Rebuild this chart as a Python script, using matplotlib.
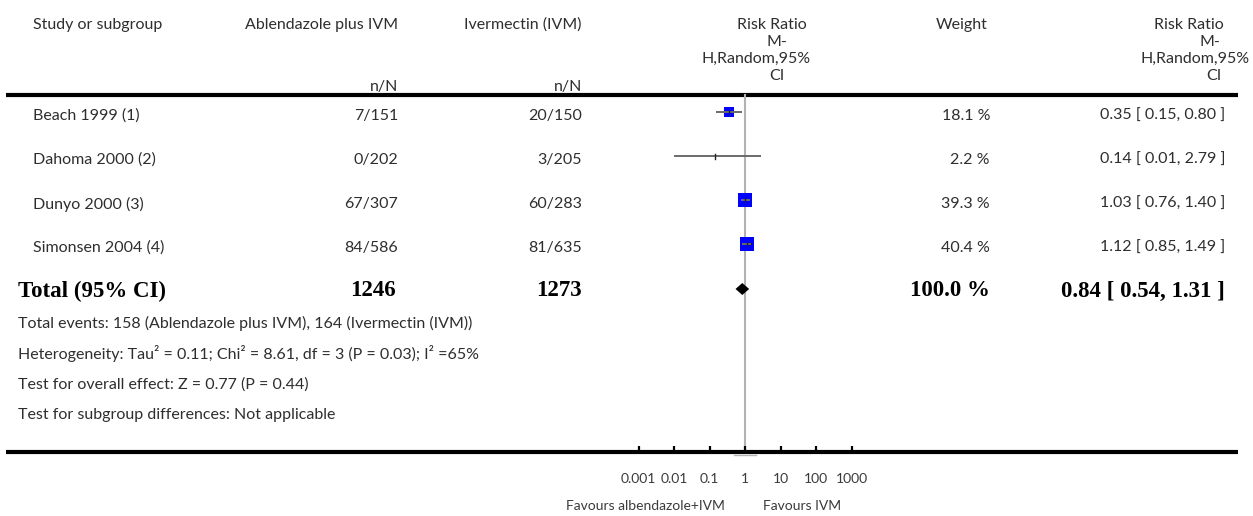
import matplotlib
matplotlib.use("Agg")
import matplotlib.pyplot as plt
import numpy as np

# ---------------- data ----------------
studies = ["Beach 1999 (1)", "Dahoma 2000 (2)", "Dunyo 2000 (3)", "Simonsen 2004 (4)"]
exp_events = [7, 0, 67, 84]
exp_total = [151, 202, 307, 586]
ctl_events = [20, 3, 60, 81]
ctl_total = [150, 205, 283, 635]
weights = [18.1, 2.2, 39.3, 40.4]
rr = [0.35, 0.14, 1.03, 1.12]
rr_lo = [0.15, 0.01, 0.76, 0.85]
rr_hi = [0.80, 2.79, 1.40, 1.49]

total_label = "Total (95% CI)"
total_exp = 1246
total_ctl = 1273
total_weight = 100.0
total_rr, total_lo, total_hi = 0.84, 0.54, 1.31

footer_lines = [
    "Total events: 158 (Ablendazole plus IVM), 164 (Ivermectin (IVM))",
    "Heterogeneity: Tau\u00b2 = 0.11; Chi\u00b2 = 8.61, df = 3 (P = 0.03); I\u00b2 =65%",
    "Test for overall effect: Z = 0.77 (P = 0.44)",
    "Test for subgroup differences: Not applicable",
]
tick_values = [0.001, 0.01, 0.1, 1, 10, 100, 1000]
tick_labels = ["0.001", "0.01", "0.1", "1", "10", "100", "1000"]
favours_left = "Favours albendazole+IVM"
favours_right = "Favours IVM"

# ---------------- layout (pixels) ----------------
W, H = 1253, 516
SANS = ["Lato", "DejaVu Sans"]
SERIF = ["Liberation Serif", "DejaVu Serif"]
TXT = "#2e2e2e"
fs = 11.5
fs_bold = 16.5

fig = plt.figure(figsize=(W / 100, H / 100), dpi=100)
ov = fig.add_axes([0, 0, 1, 1])
ov.set_xlim(0, W)
ov.set_ylim(H, 0)
ov.axis("off")

row_y0, row_dy = 116, 44
row_ys = [row_y0 + i * row_dy for i in range(len(studies))]
total_y = row_y0 + len(studies) * row_dy - 1
foot_ys = [323, 354, 385, 415]
top_line_y = 95
axis_y = 452


def t(x, y, s, ha="left", **kw):
    ov.text(x, y, s, ha=ha, va="center", fontsize=fs, family=SANS, color=TXT, **kw)


# header
hy = 25
t(33, hy, "Study or subgroup")
t(398, hy, "Ablendazole plus IVM", "right")
t(582, hy, "Ivermectin (IVM)", "right")
t(988, hy, "Weight", "right")
t(398, 87, "n/N", "right")
t(582, 87, "n/N", "right")
for (x, y, s) in [(772, 25, "Risk Ratio"), (777, 42, "M-"), (756, 59, "H,Random,95%"), (777, 76, "CI"),
                  (1189, 25, "Risk Ratio"), (1210, 42, "M-"), (1195, 59, "H,Random,95%"), (1214, 76, "CI")]:
    t(x, y, s, "center")

# thick rules
ov.plot([6, 1238], [top_line_y, top_line_y], color="black", lw=3.0, solid_capstyle="butt")
ov.plot([6, 1238], [axis_y, axis_y], color="black", lw=3.0, solid_capstyle="butt")
ov.plot([734, 756], [axis_y + 3, axis_y + 3], color="#b3b3b3", lw=1.0)

# study rows
for i, y in enumerate(row_ys):
    t(33, y, studies[i])
    t(398, y, f"{exp_events[i]}/{exp_total[i]}", "right")
    t(582, y, f"{ctl_events[i]}/{ctl_total[i]}", "right")
    t(990, y, f"{weights[i]:.1f} %", "right")
    t(1225, y, f"{rr[i]:.2f} [ {rr_lo[i]:.2f}, {rr_hi[i]:.2f} ]", "right")

# total row
for x, s, ha in [(18, total_label, "left"), (396, f"{total_exp}", "right"), (582, f"{total_ctl}", "right"),
                 (990, f"{total_weight:.1f} %", "right"),
                 (1225, f"{total_rr:.2f} [ {total_lo:.2f}, {total_hi:.2f} ]", "right")]:
    ov.text(x, total_y, s, ha=ha, va="center", fontsize=fs_bold, family=SERIF, weight="bold", color="black")

for y, s in zip(foot_ys, footer_lines):
    t(18, y, s)

# ---------------- forest axes (log scale) ----------------
x_one, dec = 745.0, 35.5
fx0, fx1 = 600.0, 890.0
fa = fig.add_axes([fx0 / W, (H - axis_y) / H, (fx1 - fx0) / W, axis_y / H])
fa.patch.set_alpha(0)
fa.set_xscale("log")
fa.set_xlim(10 ** ((fx0 - x_one) / dec), 10 ** ((fx1 - x_one) / dec))
fa.set_ylim(axis_y, 0)
for sp in fa.spines.values():
    sp.set_visible(False)
fa.set_yticks([])
fa.set_xticks(tick_values)
fa.set_xticklabels(tick_labels)
fa.minorticks_off()
fa.tick_params(axis="x", direction="in", length=4.0, width=1.6, color="black", pad=15,
               labelsize=10, labelcolor="#3a3a3a")
for lab in fa.get_xticklabels():
    lab.set_family(SANS)

fa.plot([1, 1], [top_line_y, axis_y], color="#b3b3b3", lw=1.5, zorder=1)

mark_off = -4
for i, y in enumerate(row_ys):
    ym = y + mark_off
    side = 2.12 * np.sqrt(weights[i]) * 0.72
    if weights[i] >= 5:
        fa.plot([rr[i]], [ym], marker="s", markersize=side, color="#0000ff", markeredgewidth=0, zorder=2)
    fa.plot([rr_lo[i], rr_hi[i]], [ym, ym], color="#6a6a6a", lw=1.4, zorder=3, solid_capstyle="butt")
    fa.plot([rr[i], rr[i]], [ym - 2.5, ym + 2.5], color="#222222", lw=1.0, zorder=4)

ty = total_y - 2
fa.fill([total_lo, total_rr, total_hi, total_rr], [ty, ty - 6, ty, ty + 6], color="black", lw=0, zorder=3)

fig.text(725 / W, 1 - 506 / H, favours_left, ha="right", va="center", fontsize=10, family=SANS, color="#3a3a3a")
fig.text(763 / W, 1 - 506 / H, favours_right, ha="left", va="center", fontsize=10, family=SANS, color="#3a3a3a")

fig.savefig("out.png", dpi=100)
